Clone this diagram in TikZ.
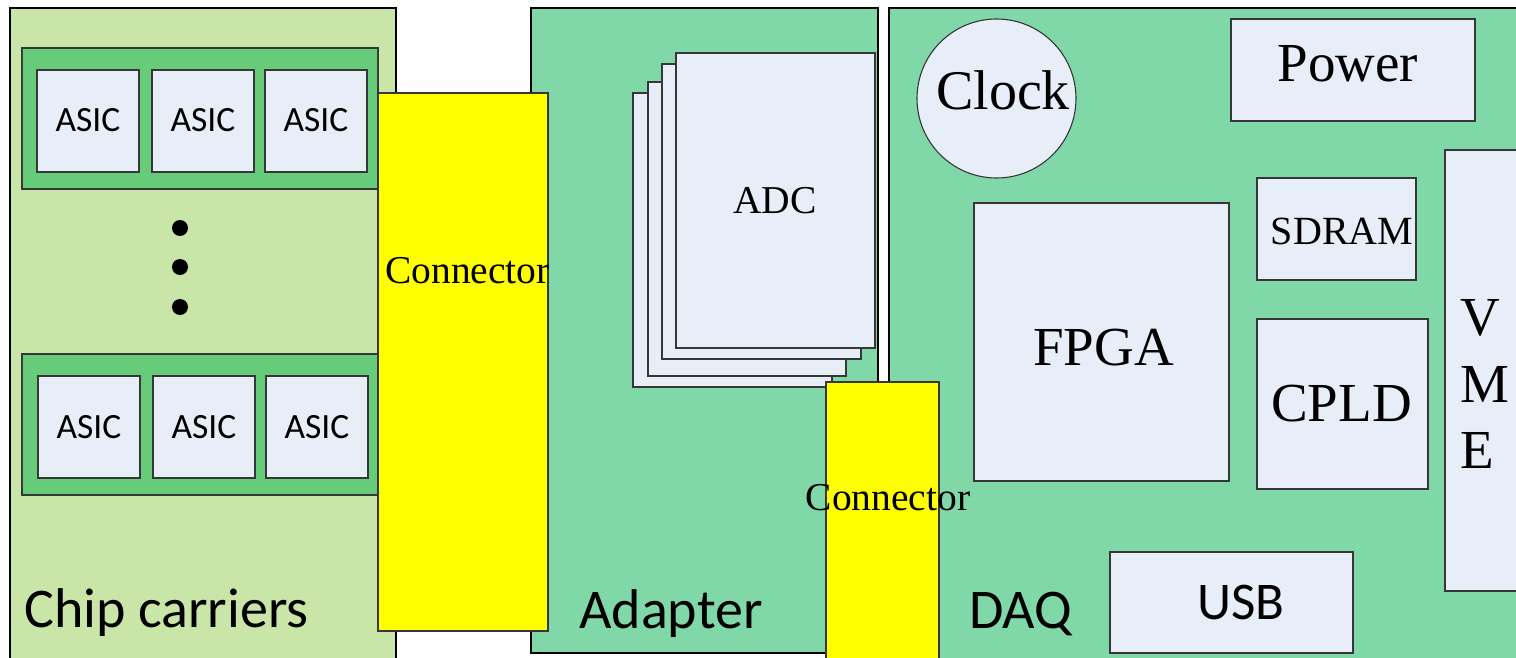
\documentclass[tikz,border=0pt]{standalone}
\usepackage{fontspec}
\setmainfont{Liberation Serif}
\newfontfamily\calfont{Carlito}
\definecolor{ccgreen}{RGB}{201,230,168}
\definecolor{stripgreen}{RGB}{102,204,122}
\definecolor{boardgreen}{RGB}{128,216,168}
\definecolor{chipfill}{RGB}{231,238,248}
\definecolor{thinline}{RGB}{55,55,55}
\definecolor{connyellow}{RGB}{255,255,0}
\begin{document}
\begin{tikzpicture}[x=1pt,y=-1pt,
  boardbox/.style={draw=black, line width=2.6pt, rectangle, inner sep=0pt, outer sep=0pt, anchor=north west},
  stripbox/.style={draw=thinline, line width=1.1pt, fill=stripgreen, rectangle, inner sep=0pt, outer sep=0pt, anchor=north west},
  chipbox/.style={draw=thinline, line width=1.1pt, fill=chipfill, rectangle, inner sep=0pt, outer sep=0pt, anchor=north west},
  connbox/.style={draw=thinline, line width=1.1pt, fill=connyellow, rectangle, inner sep=0pt, outer sep=0pt, anchor=north west},
  dotnode/.style={circle, fill=black, inner sep=0pt, minimum size=16pt},
  sanslab/.style={inner sep=0pt, anchor=base, font=\calfont\fontsize{35.5}{42}\selectfont},
  biglab/.style={inner sep=0pt, anchor=base west, font=\calfont\fontsize{56}{67}\selectfont},
  serlab/.style={inner sep=0pt, anchor=base, font=\fontsize{39.5}{47}\selectfont},
  bigser/.style={inner sep=0pt, anchor=base, font=\fontsize{55}{66}\selectfont}
]
\useasboundingbox (0,0) rectangle (1516,658);
\clip (0,0) rectangle (1516,658);
\fill[white] (0,0) rectangle (1516,658);

% boards
\node[boardbox, fill=ccgreen, minimum width=386pt, minimum height=670pt] (cc) at (10,8) {};
\node[boardbox, fill=boardgreen, minimum width=347pt, minimum height=645pt] (adapter) at (531,8) {};
\node[boardbox, fill=boardgreen, minimum width=650pt, minimum height=670pt] (daq) at (889,8) {};

% chip carrier strips
\node[stripbox, minimum width=356pt, minimum height=141pt] (strip1) at (22,48) {};
\node[stripbox, minimum width=356pt, minimum height=141pt] (strip2) at (22,354) {};

% ASICs
\node[chipbox, minimum width=102pt, minimum height=102pt] (a11) at (37,70) {};
\node[chipbox, minimum width=102pt, minimum height=102pt] (a12) at (152,70) {};
\node[chipbox, minimum width=102pt, minimum height=102pt] (a13) at (265,70) {};
\node[chipbox, minimum width=102pt, minimum height=102pt] (a21) at (38,376) {};
\node[chipbox, minimum width=102pt, minimum height=102pt] (a22) at (153,376) {};
\node[chipbox, minimum width=102pt, minimum height=102pt] (a23) at (266,376) {};
\node[sanslab] (t11) at (88,132) {ASIC};
\node[sanslab] (t12) at (203,132) {ASIC};
\node[sanslab] (t13) at (316,132) {ASIC};
\node[sanslab] (t21) at (89,438) {ASIC};
\node[sanslab] (t22) at (204,438) {ASIC};
\node[sanslab] (t23) at (317,438) {ASIC};

% dots
\node[dotnode] (d1) at (180,228) {};
\node[dotnode] (d2) at (180,267) {};
\node[dotnode] (d3) at (180,307) {};

\node[biglab] (cclab) at (24,627) {Chip carriers};

% ADC stack
\node[chipbox, minimum width=199pt, minimum height=294pt] (adc1) at (633,93) {};
\node[chipbox, minimum width=198pt, minimum height=294pt] (adc2) at (648,82) {};
\node[chipbox, minimum width=199pt, minimum height=295pt] (adc3) at (662,64) {};
\node[chipbox, minimum width=199pt, minimum height=295pt] (adc4) at (676,53) {};
\node[serlab] (adclab) at (775,213) {ADC};

\node[biglab] (adlab) at (579,628) {Adapter};

% connectors
\node[connbox, minimum width=170pt, minimum height=538pt] (conn1) at (378,93) {};
\node[serlab] (conn1lab) at (467.5,283) {Connector};
\node[connbox, minimum width=113pt, minimum height=290pt] (conn2) at (826,382) {};
\node[serlab] (conn2lab) at (888,510) {Connector};

% DAQ content
\node[circle, draw=thinline, line width=1.1pt, fill=chipfill, minimum size=159pt, inner sep=0pt] (clock) at (996.5,98.5) {};
\node[bigser, font=\fontsize{56}{67}\selectfont] (clocklab) at (1003,110) {Clock};
\node[chipbox, minimum width=244pt, minimum height=102pt] (power) at (1231,19) {};
\node[bigser] (powerlab) at (1348,82) {Power};
\node[chipbox, minimum width=159pt, minimum height=102pt] (sdram) at (1257,178) {};
\node[serlab, font=\fontsize{40}{48}\selectfont] (sdramlab) at (1342,244) {SDRAM};
\node[chipbox, minimum width=255pt, minimum height=278pt] (fpga) at (974,203) {};
\node[bigser] (fpgalab) at (1103.5,365) {FPGA};
\node[chipbox, minimum width=171pt, minimum height=170pt] (cpld) at (1257,319) {};
\node[bigser] (cpldlab) at (1341.5,421) {CPLD};
\node[chipbox, minimum width=100pt, minimum height=441pt] (vme) at (1445,150) {};
\node[bigser, anchor=base west] (vmev) at (1460,335) {V};
\node[bigser, anchor=base west] (vmem) at (1460,402) {M};
\node[bigser, anchor=base west] (vmee) at (1460,468) {E};
\node[chipbox, minimum width=243pt, minimum height=101pt] (usb) at (1110,552) {};
\node[sanslab, font=\calfont\fontsize{53}{64}\selectfont] (usblab) at (1241,619) {USB};
\node[biglab] (daqlab) at (969,628) {DAQ};
\end{tikzpicture}
\end{document}
